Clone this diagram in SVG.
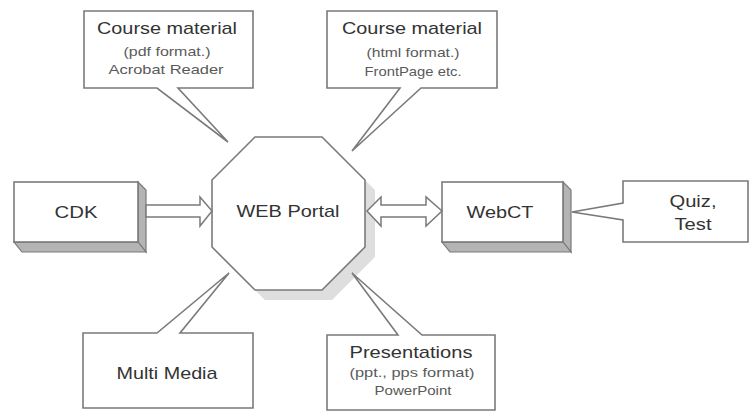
<svg xmlns="http://www.w3.org/2000/svg" width="751" height="412" viewBox="0 0 751 412">
<style>
.shape{fill:#fff;stroke:#7a7a7a;stroke-width:1.6;stroke-linejoin:miter}
.side{fill:#b4b4b4;stroke:#7a7a7a;stroke-width:1.2}
.shadow{fill:#dedede;stroke:none}
.arrow{fill:#fff;stroke:#7a7a7a;stroke-width:1.5}
.t{font-family:"Liberation Sans",Arial,sans-serif;fill:#333;text-anchor:middle;font-size:17px}
.s{font-family:"Liberation Sans",Arial,sans-serif;fill:#5a5a5a;text-anchor:middle;font-size:13px}
</style>
<rect width="751" height="412" fill="#fff"/>
<g id="course-pdf">
<path class="shape" d="M84,11 H253 V88 H178 L228,142 L157,88 H84 Z"/>
<text class="t" x="167" y="34" textLength="140" lengthAdjust="spacingAndGlyphs">Course material</text>
<text class="s" x="167" y="56" textLength="87" lengthAdjust="spacingAndGlyphs">(pdf format.)</text>
<text class="s" x="166" y="74" textLength="115" lengthAdjust="spacingAndGlyphs">Acrobat Reader</text>
</g>
<g id="course-html">
<path class="shape" d="M327,11 H497 V88 H421 L352,151 L400,88 H327 Z"/>
<text class="t" x="412" y="34" textLength="140" lengthAdjust="spacingAndGlyphs">Course material</text>
<text class="s" x="413" y="57" textLength="93" lengthAdjust="spacingAndGlyphs">(html format.)</text>
<text class="s" x="413" y="76" textLength="97" lengthAdjust="spacingAndGlyphs">FrontPage etc.</text>
</g>
<g id="web-portal">
<polygon class="shadow" points="265,147 332,147 375,190 375,257 332,300 265,300 222,257 222,190"/>
<polygon class="shape" points="255,137 322,137 365,180 365,247 322,290 255,290 212,247 212,180"/>
<text class="t" x="288" y="217" font-size="18" textLength="103" lengthAdjust="spacingAndGlyphs">WEB Portal</text>
</g>
<g id="cdk">
<polygon class="side" points="138,182 146,190 146,252 138,242"/>
<polygon class="side" points="14,242 138,242 146,252 22,252"/>
<rect class="shape" x="14" y="182" width="124" height="60"/>
<text class="t" x="76" y="218" textLength="43" lengthAdjust="spacingAndGlyphs">CDK</text>
</g>
<g id="webct">
<polygon class="side" points="563,182 571,190 571,252 563,242"/>
<polygon class="side" points="442,242 563,242 571,252 450,252"/>
<rect class="shape" x="442" y="182" width="121" height="60"/>
<text class="t" x="500" y="218" textLength="67" lengthAdjust="spacingAndGlyphs">WebCT</text>
</g>
<g id="quiz-test">
<path class="shape" d="M623,181 H748 V242 H623 V220 L572,212 L623,203 Z"/>
<text class="t" x="693" y="207" textLength="47" lengthAdjust="spacingAndGlyphs">Quiz,</text>
<text class="t" x="693" y="230" textLength="37" lengthAdjust="spacingAndGlyphs">Test</text>
</g>
<g id="multi-media">
<path class="shape" d="M83,333 H157 L229,273 L180,333 H253 V408 H83 Z"/>
<text class="t" x="167" y="379" textLength="101" lengthAdjust="spacingAndGlyphs">Multi Media</text>
</g>
<g id="presentations">
<path class="shape" d="M327,335 H398 L352,273 L422,335 H495 V410 H327 Z"/>
<text class="t" x="411" y="358" textLength="123" lengthAdjust="spacingAndGlyphs">Presentations</text>
<text class="s" x="412" y="377" textLength="125" lengthAdjust="spacingAndGlyphs">(ppt., pps format)</text>
<text class="s" x="413" y="395" textLength="77" lengthAdjust="spacingAndGlyphs">PowerPoint</text>
</g>
<g id="connectors">
<path class="arrow" d="M146,205 H200 V197 L212,211 L200,226 V217 H146 Z"/>
<path class="arrow" d="M367,211 L381,197 V205 H426 V197 L442,211 L426,226 V217 H381 V226 Z"/>
</g>
</svg>
